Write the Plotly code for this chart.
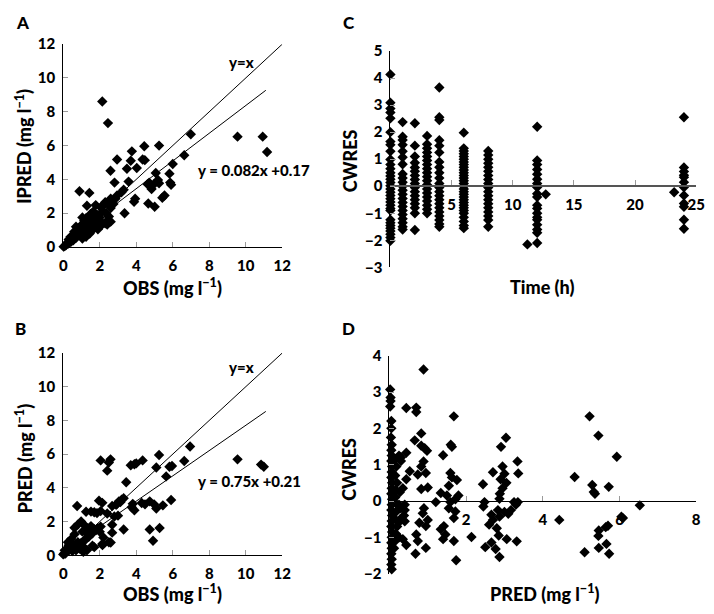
import plotly.graph_objects as go

# ---------------- data ----------------
# Panel A: (OBS, IPRED)
a_pts = [
    (2.14, 8.61), (2.45, 7.33), (6.99, 6.67), (9.55, 6.53), (10.93, 6.53), (11.17, 5.62),
    (4.44, 5.96), (5.25, 6.0), (3.76, 5.66), (2.95, 5.18), (3.70, 5.10), (4.35, 5.18),
    (4.47, 5.14), (4.03, 4.67), (3.49, 4.63), (2.59, 4.51), (6.63, 5.43), (6.0, 4.91),
    (5.07, 4.38), (5.82, 4.34), (2.81, 3.81), (3.58, 3.87), (3.31, 3.39), (3.19, 3.24),
    (4.71, 3.81), (4.8, 3.62), (4.84, 3.43), (4.62, 3.72), (4.95, 3.7), (5.19, 3.96),
    (5.25, 3.77), (5.86, 3.81), (5.91, 3.68), (5.55, 3.05), (5.43, 2.91), (3.94, 2.86),
    (3.88, 2.67), (4.66, 2.57), (5.01, 2.38), (3.36, 2.0), (0.89, 3.30), (1.43, 3.2),
    (1.78, 2.48), (1.3, 2.44), (2.86, 2.86), (2.95, 3.05), (2.75, 2.55), (2.6, 2.3),
    (2.45, 2.6), (2.3, 2.65), (2.2, 2.45), (2.05, 2.35), (2.15, 2.1), (2.35, 2.0),
    (2.5, 1.8), (2.45, 1.6), (2.6, 1.5), (2.3, 1.4), (2.1, 1.3), (1.95, 1.6),
    (1.9, 1.05), (1.75, 1.3), (1.6, 1.0), (1.45, 0.8), (1.25, 0.6), (1.05, 0.5),
    (1.25, 1.7), (1.05, 1.75), (1.15, 1.55), (1.35, 1.45), (1.5, 1.95), (1.65, 2.1),
    (1.85, 1.9), (2.0, 1.75), (0.7, 1.2), (0.85, 1.1), (0.6, 0.9), (0.5, 0.55),
    (0.02, 0.02), (0.08, 0.05), (0.15, 0.12), (0.2, 0.22), (0.28, 0.2), (0.35, 0.35),
    (0.42, 0.3), (0.48, 0.45), (0.55, 0.4), (0.62, 0.6), (0.7, 0.55), (0.78, 0.75),
    (0.85, 0.7), (0.92, 0.9), (1.0, 0.85), (1.08, 1.05), (1.15, 0.95), (1.22, 1.2),
    (1.3, 1.1), (1.4, 1.3), (1.5, 1.25), (1.6, 1.5), (1.7, 1.6), (1.8, 1.45),
    (1.9, 1.75), (2.0, 1.55), (1.1, 1.35), (0.95, 1.25), (0.4, 0.6), (0.3, 0.45),
    (0.6, 0.75), (0.75, 0.95), (2.41, 1.33), (2.6, 2.86),
]

# Panel B: (OBS, PRED)
b_pts = [
    (6.95, 6.45), (9.55, 5.69), (10.84, 5.38), (10.99, 5.25), (5.25, 5.95), (6.63, 5.59),
    (5.10, 5.21), (5.82, 5.25), (5.96, 5.3), (5.64, 4.68), (5.91, 3.28), (5.46, 2.96),
    (4.98, 3.02), (5.1, 2.77), (4.74, 3.2), (4.48, 3.02), (4.3, 3.1), (3.7, 5.34),
    (3.9, 5.4), (4.0, 5.45), (4.35, 5.63), (3.45, 4.33), (2.05, 5.63), (2.59, 5.69),
    (2.41, 5.02), (2.5, 5.5), (3.81, 3.05), (3.9, 2.67), (3.75, 2.85), (3.31, 3.38),
    (3.13, 3.15), (2.95, 3.05), (2.68, 2.92), (2.8, 2.3), (3.0, 2.35), (2.41, 2.48),
    (1.96, 3.24), (2.14, 3.11), (0.76, 2.92), (1.25, 2.58), (1.52, 2.59), (1.7, 2.55),
    (2.05, 2.62), (1.85, 2.5), (4.74, 1.53), (5.28, 1.62), (4.92, 0.86), (3.31, 1.53),
    (2.68, 1.81), (2.68, 1.34), (2.2, 1.05), (2.6, 0.76), (2.15, 0.6), (1.7, 0.48),
    (1.3, 0.3), (2.9, 3.0), (3.05, 3.2), (3.2, 3.3), (0.62, 1.63), (0.8, 1.82),
    (0.98, 2.0), (1.1, 1.85), (1.52, 1.73), (1.7, 1.54), (1.9, 1.6), (2.05, 1.7),
    (1.25, 1.34), (1.05, 1.4), (0.62, 1.25), (0.44, 0.96), (0.26, 0.77), (0.5, 0.7),
    (0.8, 0.77), (0.98, 0.58), (1.15, 0.45), (0.08, 0.29), (0.0, 0.05), (0.05, 0.1),
    (0.15, 0.2), (0.2, 0.35), (0.3, 0.3), (0.35, 0.5), (0.4, 0.4), (0.55, 0.55),
    (0.65, 0.45), (0.7, 0.3), (0.9, 0.4), (1.0, 0.75), (1.2, 0.9), (1.4, 1.1),
    (1.5, 1.5), (1.3, 1.6), (1.6, 1.3), (2.14, 0.67), (2.5, 0.77), (1.8, 1.5),
    (2.0, 1.4), (0.3, 0.6), (0.12, 0.1), (0.5, 0.25), (1.1, 0.2), (1.6, 0.57),
]

# Panel C: CWRES by sampling time (h)
c_times = [0, 1, 2, 3, 4, 6, 8, 12, 24]
c_t0 = [4.13, 3.09, 2.87, 2.73, 2.51, 2.0, 1.65, 1.53, 1.29, 0.99, 0.8, 0.65, 0.5, 0.38,
        0.26, 0.14, 0.02, -0.1, -0.22, -0.34, -0.46, -0.58, -0.7, -0.82, -0.9, -1.24,
        -1.35, -1.45, -1.55, -1.66, -1.78, -1.9, -2.02]
c_t1 = [2.37, 1.83, 1.71, 1.53, 1.29, 1.07, 0.81, 0.45, 0.3, 0.15, 0.0, -0.15, -0.3,
        -0.45, -0.6, -0.75, -0.9, -1.05, -1.2, -1.35, -1.5, -1.6]
c_t2 = [2.33, 1.5, 1.1, 0.87, 0.69, 0.55, 0.4, 0.25, 0.1, -0.05, -0.2, -0.35, -0.5,
        -0.65, -0.8, -1.0, -1.62]
c_t3 = [1.86, 1.55, 1.4, 1.25, 1.1, 0.95, 0.8, 0.65, 0.5, 0.35, 0.2, 0.05, -0.1, -0.25,
        -0.4, -0.55, -0.7, -0.85, -1.0]
c_t4 = [3.65, 2.55, 2.45, 1.7, 1.5, 1.25, 0.9, 0.7, 0.5, 0.3, 0.1, -0.05, -0.2, -0.35,
        -0.5, -0.65, -0.8, -0.95, -1.1, -1.25, -1.4, -1.5]
c_t6 = [1.98, 1.4, 1.3, 1.2, 1.1, 1.0, 0.9, 0.8, 0.7, 0.6, 0.5, 0.4, 0.3, 0.2, 0.1, 0.0,
        -0.1, -0.2, -0.3, -0.4, -0.5, -0.6, -0.7, -0.8, -0.9, -1.0, -1.15, -1.3, -1.45, -1.55]
c_t8 = [1.3, 1.15, 1.0, 0.85, 0.7, 0.55, 0.4, 0.25, 0.1, -0.05, -0.2, -0.35, -0.5, -0.65,
        -0.8, -0.95, -1.1, -1.25, -1.5]
c_t12 = [2.2, 0.95, 0.8, 0.62, 0.44, 0.26, 0.1, -0.04, -0.28, -0.4, -0.7, -0.82, -1.0,
         -1.15, -1.24, -1.42, -1.6, -1.72, -2.1]
c_t24 = [2.55, 0.69, 0.54, 0.41, 0.33, 0.15, -0.04, -0.34, -0.64, -0.76, -1.24, -1.57]
c_columns = [c_t0, c_t1, c_t2, c_t3, c_t4, c_t6, c_t8, c_t12, c_t24]
c_extra = [(11.2, -2.15), (12.7, -0.3), (23.2, -0.22)]

# Panel D: (PRED, CWRES)
d_pts = [
    (0.89, 3.62), (0.02, 3.07), (0.03, 2.85), (0.03, 2.75), (0.02, 2.6), (0.05, 2.2),
    (0.05, 2.0), (0.04, 1.75), (0.06, 1.55), (0.05, 1.4), (0.06, 1.25), (0.05, 1.1),
    (0.07, 0.95), (0.06, 0.8), (0.05, 0.65), (0.07, 0.5), (0.06, 0.35), (0.05, 0.2),
    (0.07, 0.05), (0.06, -0.1), (0.05, -0.25), (0.07, -0.4), (0.06, -0.55), (0.05, -0.7),
    (0.07, -0.85), (0.06, -1.0), (0.05, -1.15), (0.06, -1.3), (0.05, -1.45), (0.06, -1.6),
    (0.05, -1.75), (0.06, -1.88), (0.15, 1.15), (0.18, 0.95), (0.15, 0.7), (0.2, 0.5),
    (0.17, 0.3), (0.15, 0.1), (0.2, -0.1), (0.17, -0.3), (0.15, -0.5), (0.2, -0.7),
    (0.17, -0.9), (0.15, -1.1), (0.12, -1.3), (0.25, 1.25), (0.27, 0.24), (0.3, -0.2),
    (0.28, -0.55), (0.3, 1.2), (0.35, 0.35), (0.44, 2.56), (0.7, 2.57), (0.7, 2.45),
    (1.68, 2.33), (0.83, 1.86), (0.66, 1.67), (0.83, 1.52), (0.92, 1.45), (0.98, 1.38),
    (0.44, 1.33), (0.3, 1.1), (1.63, 1.49), (1.6, 1.55), (1.4, 1.26), (3.04, 1.74),
    (2.91, 1.49), (3.34, 1.09), (3.36, 0.76), (2.7, 0.79), (2.95, 0.95), (3.0, 0.75),
    (2.9, 0.6), (3.05, 0.5), (2.95, 0.35), (2.88, 0.2), (0.89, 1.09), (0.83, 0.95),
    (0.74, 0.73), (0.95, 0.77), (0.53, 0.82), (0.44, 0.6), (1.59, 0.77), (1.63, 0.65),
    (1.76, 0.58), (1.55, 0.42), (2.44, 0.46), (1.0, 0.37), (0.83, 0.33), (1.34, 0.22),
    (1.5, 0.15), (1.21, -0.03), (1.8, 0.15), (1.72, 0.05), (2.87, 0.06), (2.48, -0.03),
    (2.45, -0.15), (3.25, -0.03), (3.35, -0.03), (3.3, -0.1), (3.17, -0.25), (3.1, -0.35),
    (1.59, -0.03), (1.55, -0.2), (1.72, -0.29), (1.68, -0.47), (2.83, -0.25), (2.66, -0.38),
    (2.7, -0.52), (2.6, -0.65), (2.87, -0.43), (3.0, -0.3), (1.0, -0.52), (0.78, -0.6),
    (0.95, -0.69), (0.87, -0.34), (0.9, -0.2), (0.4, -0.25), (0.38, -0.4), (0.4, -0.56),
    (0.28, -0.5), (0.25, -0.1), (0.4, -0.1), (1.42, -0.69), (1.34, -0.78), (1.46, -0.92),
    (1.4, -1.05), (1.68, -1.1), (2.14, -0.99), (0.7, -0.92), (0.74, -1.1), (0.44, -1.21),
    (0.25, -1.0), (0.35, -1.05), (0.68, -1.45), (0.95, -1.29), (2.5, -1.27), (2.66, -1.14),
    (2.77, -1.32), (2.87, -1.54), (3.06, -1.05), (3.32, -1.11), (1.74, -1.63), (2.85, -0.95),
    (2.8, -0.75), (5.22, 2.33), (5.45, 1.8), (5.93, 1.22), (4.83, 0.66), (5.29, 0.44),
    (5.72, 0.39), (5.36, 0.2), (5.33, 0.25), (6.53, -0.12), (6.09, -0.47), (6.05, -0.43),
    (4.43, -0.52), (5.7, -0.68), (5.64, -0.72), (5.46, -0.81), (5.45, -0.96), (5.66, -1.18),
    (5.46, -1.29), (5.09, -1.41), (5.73, -1.45),
]

# regression fits: slope, intercept, last x of fitted line
a_fit = (0.82, 0.17, 11.1)
b_fit = (0.75, 0.21, 11.1)
a_fit_label = "y = 0.082x +0.17"
b_fit_label = "y = 0.75x +0.21"
conc_ticks = [0, 2, 4, 6, 8, 10, 12]
time_ticks = [5, 10, 15, 20, 25]
pred_ticks = [2, 4, 6, 8]

# ---------------- figure ----------------
# the page body has an 8 px margin, so the figure is shrunk and shifted by it
OFF = 8
W, H = 714 - OFF, 614 - OFF
FONT = "Lato, 'Open Sans', sans-serif"


def fx(p):
    return (p - OFF) / W


def fy(p):
    return 1 - (p - OFF) / H


marker = dict(symbol="diamond", size=8, color="black", line=dict(width=0))
fig = go.Figure()


def scatter(pts, xa, ya):
    fig.add_trace(go.Scatter(x=[p[0] for p in pts], y=[p[1] for p in pts], mode="markers",
                             marker=marker, xaxis=xa, yaxis=ya, cliponaxis=False,
                             showlegend=False, hoverinfo="x+y"))


def line(xs, ys, xa, ya):
    fig.add_trace(go.Scatter(x=xs, y=ys, mode="lines", line=dict(color="black", width=1),
                             xaxis=xa, yaxis=ya, showlegend=False, hoverinfo="skip"))


# A
scatter(a_pts, "x", "y")
line([0, conc_ticks[-1]], [0, conc_ticks[-1]], "x", "y")
line([0, a_fit[2]], [a_fit[1], a_fit[0] * a_fit[2] + a_fit[1]], "x", "y")
# B
scatter(b_pts, "x2", "y2")
line([0, conc_ticks[-1]], [0, conc_ticks[-1]], "x2", "y2")
line([0, b_fit[2]], [b_fit[1], b_fit[0] * b_fit[2] + b_fit[1]], "x2", "y2")
# C
c_pts = [(t, v) for t, col in zip(c_times, c_columns) for v in col] + c_extra
scatter(c_pts, "x3", "y3")
# D
scatter(d_pts, "x4", "y4")

tickfont = dict(family=FONT, size=15, color="black", weight=900)
common = dict(showgrid=False, zeroline=False, showline=True, linecolor="black", linewidth=1,
              ticks="inside", ticklen=5, tickcolor="#9a9a9a", tickwidth=1,
              tickfont=tickfont, fixedrange=True)

fig.update_layout(
    width=W, height=H, margin=dict(l=0, r=0, t=0, b=0, pad=0),
    paper_bgcolor="white", plot_bgcolor="white", showlegend=False,
    xaxis=dict(domain=[fx(60.2), fx(283.3)], anchor="y", range=[0, 12], tickvals=conc_ticks,
               ticklabelstandoff=5, **common),
    yaxis=dict(domain=[fy(244), fy(35)], anchor="x", range=[0, 12], tickvals=conc_ticks,
               ticklabelstandoff=4, **common),
    xaxis2=dict(domain=[fx(60.2), fx(283.3)], anchor="y2", range=[0, 12], tickvals=conc_ticks,
                ticklabelstandoff=5, **common),
    yaxis2=dict(domain=[fy(561.7), fy(353.3)], anchor="x2", range=[0, 12], tickvals=conc_ticks,
                ticklabelstandoff=4, **common),
    xaxis3=dict(domain=[fx(393.5), fx(705)], anchor="free", position=fy(181.4), range=[0, 25],
                tickvals=time_ticks, ticklabelstandoff=5,
                **{**common, "linecolor": "#555555", "linewidth": 2}),
    yaxis3=dict(domain=[fy(265), fy(42)], anchor="x3", range=[-3, 5], dtick=1,
                ticklabelstandoff=4, **common),
    xaxis4=dict(domain=[fx(392.5), fx(705)], anchor="free", position=fy(505.8), range=[0, 8],
                tickvals=pred_ticks, ticklabelstandoff=5, **common),
    yaxis4=dict(domain=[fy(580.7), fy(356)], anchor="x4", range=[-2, 4], dtick=1,
                ticklabelstandoff=4, **common),
)

title_font = dict(family=FONT, size=18, color="black", weight=900)
letter_font = dict(family=FONT, size=17, color="black", weight=900)
eq_font = dict(family=FONT, size=15, color="black", weight=900)

anns = [
    # panel letters
    dict(text="A", x=fx(19), y=fy(13), font=letter_font),
    dict(text="C", x=fx(351), y=fy(13), font=letter_font),
    dict(text="B", x=fx(17), y=fy(328), font=letter_font),
    dict(text="D", x=fx(351), y=fy(328), font=letter_font),
    # axis titles
    dict(text="OBS (mg l<sup>−1</sup>)", x=fx(172), y=fy(285), font=title_font),
    dict(text="IPRED (mg l<sup>−1</sup>)", x=fx(20), y=fy(140), font=title_font, textangle=-90),
    dict(text="OBS (mg l<sup>−1</sup>)", x=fx(172), y=fy(601), font=title_font),
    dict(text="PRED (mg l<sup>−1</sup>)", x=fx(20), y=fy(462), font=title_font, textangle=-90),
    dict(text="Time (h)", x=fx(548), y=fy(285), font=title_font),
    dict(text="CWRES", x=fx(352), y=fy(155), font=title_font, textangle=-90),
    dict(text="PRED (mg l<sup>−1</sup>)", x=fx(550), y=fy(601), font=title_font),
    dict(text="CWRES", x=fx(352), y=fy(473), font=title_font, textangle=-90),
]
for a in anns:
    a.update(xref="paper", yref="paper", showarrow=False, xanchor="center", yanchor="middle")

# equation labels in data coordinates
anns += [
    dict(text="y=x", x=9.77, y=10.96, xref="x", yref="y", font=eq_font, showarrow=False),
    dict(text=a_fit_label, x=10.47, y=4.53, xref="x", yref="y", font=eq_font, showarrow=False),
    dict(text="y=x", x=9.77, y=11.15, xref="x2", yref="y2", font=eq_font, showarrow=False),
    dict(text=b_fit_label, x=10.2, y=4.41, xref="x2", yref="y2", font=eq_font, showarrow=False),
]
fig.update_layout(annotations=anns)

fig.write_html("out.html")
